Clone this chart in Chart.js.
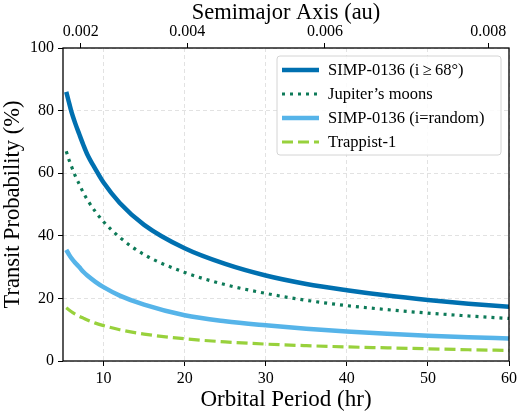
<!DOCTYPE html>
<html>
<head>
<meta charset="utf-8">
<script src="https://cdn.jsdelivr.net/npm/chart.js@4.4.1/dist/chart.umd.min.js"></script>
<style>
  html, body { margin: 0; padding: 0; background: #fff; }
  #wrap { width: 520px; height: 415px; }
</style>
</head>
<body>
<div id="wrap"><canvas id="transitChart" width="520" height="415"></canvas></div>
<script>
const periods = [5.4, 5.7, 6, 6.5, 7, 7.5, 8, 9, 10, 12, 15, 20, 25, 30, 35, 40, 45, 50, 55, 60];

// Transit probability (%)
const simpHighIncl = [86, 83, 80, 76, 72.5, 69.1, 66, 61.3, 57, 50.5, 43.5, 36, 31, 27.3, 24.6, 22.6, 20.9, 19.5, 18.3, 17.3];
const jupiterMoons = [67, 64.6, 62.5, 59.2, 56.5, 53.8, 51.5, 47.7, 44.5, 39.5, 34, 28.3, 24.4, 21.6, 19.4, 17.7, 16.4, 15.3, 14.4, 13.6];
const simpRandom = [35.5, 34.2, 33, 31.4, 30, 28.5, 27.3, 25.3, 23.6, 20.9, 18, 14.6, 12.7, 11.4, 10.3, 9.4, 8.7, 8.1, 7.6, 7.2];
const trappist = [17, 16.4, 15.8, 15.0, 14.3, 13.7, 13.1, 12.1, 11.3, 10.0, 8.6, 7.1, 6.1, 5.4, 4.9, 4.5, 4.2, 3.9, 3.6, 3.4];

// Tick labels
const periodTicks = [10, 20, 30, 40, 50, 60];
const probTicks = [0, 20, 40, 60, 80, 100];
const semimajorTicks = [0.002, 0.004, 0.006, 0.008];

const P_AT_002 = 7.18;
const periodOfA = a => P_AT_002 * Math.pow(a / 0.002, 1.5);

const FONT = '"Liberation Serif", "DejaVu Serif", serif';

const toXY = arr => arr.map((v, i) => ({ x: periods[i], y: v }));

// frame round the plot + legend box inside the plot
const framePlugin = {
    id: 'frameAndLegend',
    afterDraw(chart) {
        const { ctx, chartArea: a } = chart;
        ctx.save();
        ctx.strokeStyle = '#000';
        ctx.lineWidth = 1.3;
        ctx.strokeRect(a.left, a.top, a.right - a.left, a.bottom - a.top);

        // legend
        const bx = a.right - 232, by = a.top + 8, bw = 224, bh = 99;
        ctx.fillStyle = 'rgba(255,255,255,0.85)';
        ctx.strokeStyle = '#d4d4d4';
        ctx.lineWidth = 1;
        ctx.beginPath();
        ctx.roundRect(bx, by, bw, bh, 3);
        ctx.fill();
        ctx.stroke();

        ctx.font = '16.5px ' + FONT;
        ctx.textBaseline = 'middle';
        chart.data.datasets.forEach((ds, i) => {
            const y = by + 14 + i * 24;
            ctx.strokeStyle = ds.borderColor;
            ctx.lineWidth = ds.borderWidth;
            ctx.setLineDash(ds.borderDash || []);
            ctx.beginPath();
            ctx.moveTo(bx + 5, y);
            ctx.lineTo(bx + 42, y);
            ctx.stroke();
            ctx.setLineDash([]);
            ctx.fillStyle = '#000';
            ctx.fillText(ds.label, bx + 51, y + 1);
        });
        ctx.restore();
    }
};

const ctx = document.getElementById('transitChart').getContext('2d');
new Chart(ctx, {
    type: 'line',
    data: {
        datasets: [
            {
                label: 'SIMP-0136 (i\u2009\u2265\u200968\u00b0)',
                data: toXY(simpHighIncl),
                borderColor: '#0070b0',
                borderWidth: 4.5
            },
            {
                label: 'Jupiter\u2019s moons',
                data: toXY(jupiterMoons),
                borderColor: '#0d7a58',
                borderWidth: 3.2,
                borderDash: [3, 5]
            },
            {
                label: 'SIMP-0136 (i=random)',
                data: toXY(simpRandom),
                borderColor: '#56b4e9',
                borderWidth: 4.5
            },
            {
                label: 'Trappist-1',
                data: toXY(trappist),
                borderColor: '#98d13c',
                borderWidth: 3.2,
                borderDash: [11, 5]
            }
        ]
    },
    options: {
        responsive: false,
        animation: false,
        devicePixelRatio: 1,
        layout: { padding: { left: 0, right: 8, top: 0, bottom: 0 } },
        elements: {
            point: { radius: 0 },
            line: { cubicInterpolationMode: 'monotone', fill: false }
        },
        plugins: {
            legend: { display: false },
            tooltip: { enabled: false }
        },
        scales: {
            x: {
                type: 'linear',
                position: 'bottom',
                min: 5,
                max: 60,
                afterBuildTicks: scale => { scale.ticks = periodTicks.map(v => ({ value: v })); },
                afterFit: scale => { scale.height = 54; },
                grid: { color: '#e2e2e2', tickColor: '#000', tickLength: 5, tickBorderDash: [] },
                border: { display: false, dash: [4, 3] },
                ticks: { color: '#000', font: { family: FONT, size: 16 }, padding: 3, maxRotation: 0, autoSkip: false },
                title: { display: true, text: 'Orbital Period (hr)', color: '#000', font: { family: FONT, size: 23 }, padding: { top: 0, bottom: 1 } }
            },
            x2: {
                type: 'linear',
                position: 'top',
                min: 5,
                max: 60,
                afterBuildTicks: scale => { scale.ticks = semimajorTicks.map(a => ({ value: periodOfA(a) })); },
                afterFit: scale => { scale.height = 48; },
                grid: { drawOnChartArea: false, color: '#000', tickLength: 5 },
                border: { display: false },
                ticks: {
                    color: '#000',
                    font: { family: FONT, size: 16 },
                    padding: 2,
                    maxRotation: 0,
                    autoSkip: false,
                    callback: (value, index) => semimajorTicks[index].toFixed(3)
                },
                title: { display: true, text: 'Semimajor Axis (au)', color: '#000', font: { family: FONT, size: 22.5 }, padding: { top: 0, bottom: 0 } }
            },
            y: {
                type: 'linear',
                min: 0,
                max: 100,
                afterBuildTicks: scale => { scale.ticks = probTicks.map(v => ({ value: v })); },
                afterFit: scale => { scale.width = 63; },
                grid: { color: '#e2e2e2', tickColor: '#000', tickLength: 5, tickBorderDash: [] },
                border: { display: false, dash: [4, 3] },
                ticks: { color: '#000', font: { family: FONT, size: 16 }, padding: 4 },
                title: { display: true, text: 'Transit Probability (%)', color: '#000', font: { family: FONT, size: 22.5 }, padding: { top: 0, bottom: 1 } }
            }
        }
    },
    plugins: [framePlugin]
});
</script>
</body>
</html>
